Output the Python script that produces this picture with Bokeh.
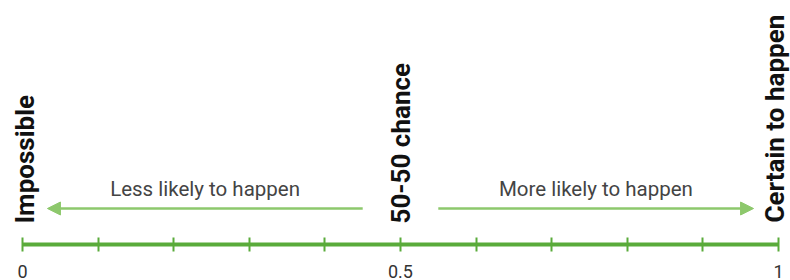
import math
from bokeh.plotting import figure
from bokeh.models import Range1d, LinearAxis, FixedTicker, Arrow, NormalHead, ColumnDataSource
from bokeh.core.properties import value
from bokeh.embed import file_html
from bokeh.resources import INLINE

# --- data ---
major_ticks = [0, 0.5, 1]
minor_ticks = [0.1, 0.2, 0.3, 0.4, 0.6, 0.7, 0.8, 0.9]
tick_labels = {0: "0", 0.5: "0.5", 1: "1"}
marker_labels = ["Impossible", "50-50 chance", "Certain to happen"]
marker_pos = [0, 0.5, 1]
arrow_labels = ["Less likely to happen", "More likely to happen"]
arrow_start = [0.45, 0.55]
arrow_end = [0.033, 0.967]

GREEN = "#5aab3b"
LIGHT = "#8dc86c"
TEXT = "#333333"

W, H = 790, 280
LEFT = 22
PX = 756.0  # pixels per unit probability
FRAME_H = 244
p = figure(width=W, height=H,
           x_range=Range1d(-LEFT / PX, (W - LEFT) / PX),
           y_range=Range1d(0, FRAME_H),
           output_backend="svg", toolbar_location=None,
           x_axis_location=None, y_axis_location=None,
           min_border_left=0, min_border_right=0, min_border_top=0,
           min_border_bottom=H - FRAME_H)
p.outline_line_color = None
p.grid.visible = False
p.background_fill_color = "white"
p.border_fill_color = "white"

ax = LinearAxis(ticker=FixedTicker(ticks=major_ticks, minor_ticks=minor_ticks),
                bounds=(0, 1))
ax.major_label_overrides = {k: v for k, v in tick_labels.items()}
ax.axis_line_color = GREEN
ax.axis_line_width = 4
ax.major_tick_line_color = GREEN
ax.major_tick_line_width = 2
ax.major_tick_in = 7
ax.major_tick_out = 7
ax.minor_tick_line_color = GREEN
ax.minor_tick_line_width = 2
ax.minor_tick_in = 7
ax.minor_tick_out = 7
ax.major_label_standoff = 13
ax.major_label_text_font = "Roboto"
ax.major_label_text_font_size = "18px"
ax.major_label_text_color = TEXT
p.add_layout(ax, "below")

# vertical marker labels
msrc = ColumnDataSource(dict(x=marker_pos, y=[21, 21, 22], t=marker_labels,
                             dx=[2, 0, -4]))
p.text(x="x", y="y", text="t", source=msrc, angle=math.pi / 2,
       text_align="left", text_baseline="middle", x_offset="dx",
       text_font=value("Roboto"), text_font_style="bold",
       text_font_size="26px", text_color="#111111")

# arrows
for s, e in zip(arrow_start, arrow_end):
    p.add_layout(Arrow(x_start=s, y_start=36, x_end=e, y_end=36,
                       line_color=LIGHT, line_width=2.5,
                       end=NormalHead(size=13, fill_color=LIGHT, line_color=LIGHT)))

asrc = ColumnDataSource(dict(x=[(s + e) / 2 for s, e in zip(arrow_start, arrow_end)],
                             y=[56, 56], t=arrow_labels))
p.text(x="x", y="y", text="t", source=asrc, text_align="center",
       text_baseline="middle", text_font=value("Roboto"),
       text_font_size="20.5px", text_color="#444444")

open("out.html", "w").write(file_html(p, INLINE))
